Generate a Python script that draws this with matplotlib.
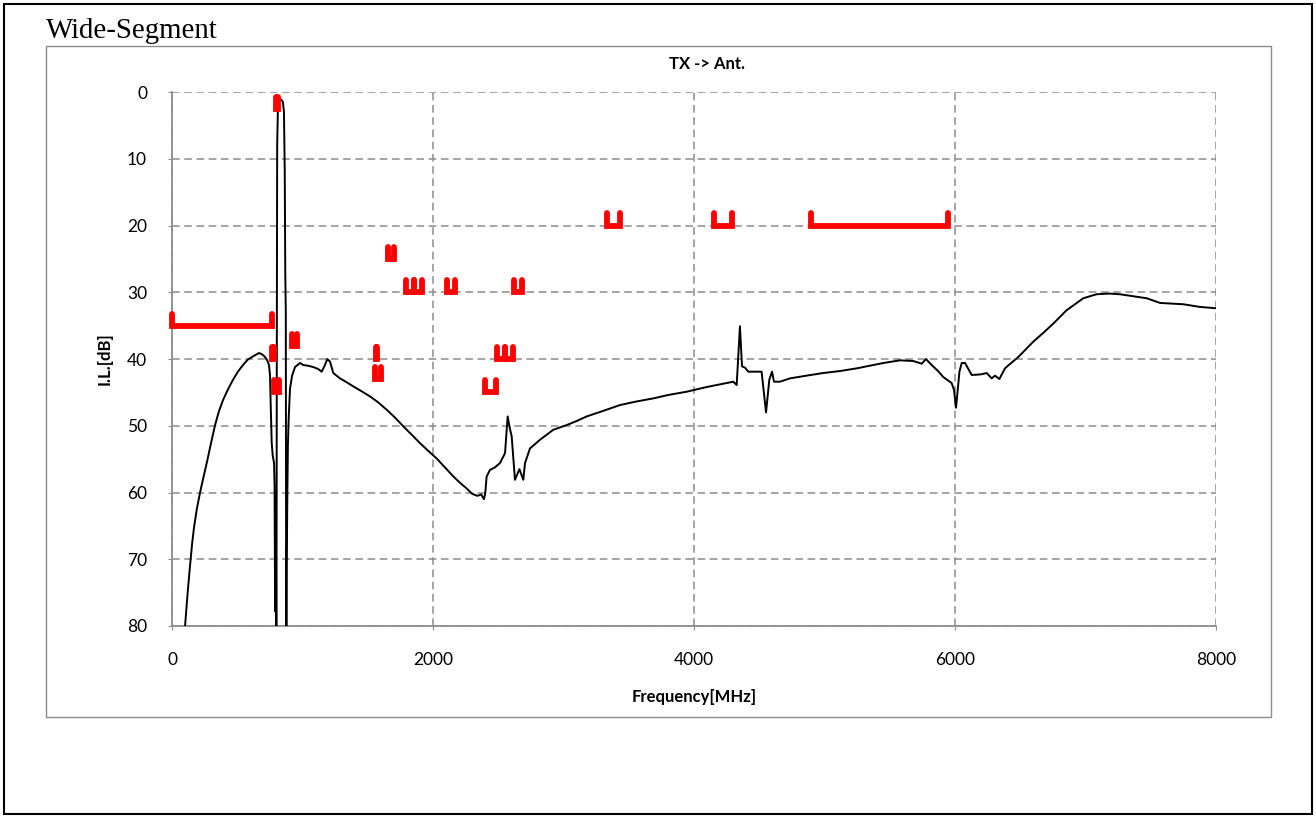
import matplotlib
matplotlib.use("Agg")
import matplotlib.pyplot as plt
from matplotlib.patches import Rectangle

plt.rcParams['font.family'] = ['Lato', 'DejaVu Sans']

# --- measured trace TX -> Ant. (frequency MHz, insertion loss dB)
freq = [100, 120, 138, 155, 169, 190, 215, 240, 266, 300, 330, 360, 392, 430, 468,
        505, 544, 580, 621, 667, 690, 713, 730, 743, 751,
        756, 764, 772, 782, 786, 790, 793, 797, 800, 803, 806, 812, 820, 835,
        850, 858, 864, 868, 872, 876, 879, 884, 888, 894, 904, 920, 943, 981,
        1005, 1040, 1082, 1120, 1147, 1170, 1190, 1211, 1236, 1287, 1340, 1389,
        1450, 1517, 1580, 1645, 1710, 1773, 1840, 1900, 1960, 2028, 2090, 2156,
        2210, 2258, 2300, 2340, 2370, 2390, 2400, 2411, 2437, 2470, 2513, 2552,
        2572, 2590, 2603, 2628, 2662, 2692, 2705, 2743, 2820, 2922, 3024, 3100,
        3178, 3300, 3433, 3550, 3688, 3800, 3944, 4097, 4225, 4301, 4327, 4352,
        4368, 4391, 4416, 4518, 4552, 4577, 4598, 4613, 4659, 4736, 4860, 4991,
        5120, 5247, 5350, 5451, 5579, 5680, 5745, 5778, 5821, 5870, 5910, 5974,
        5992, 6008, 6034, 6051, 6077, 6128, 6200, 6243, 6281, 6307, 6340, 6383,
        6430, 6485, 6540, 6600, 6670, 6753, 6855, 6983, 7085, 7180, 7264, 7366,
        7469, 7571, 7660, 7750, 7877, 8000]
il = [80, 75, 71, 67.5, 65.2, 62.5, 60, 57.8, 55.6, 52.5, 49.9, 47.8, 46.1, 44.5, 43.1,
      41.9, 40.9, 40.1, 39.6, 39.1, 39.3, 39.7, 40.2, 40.9, 42.4,
      46.6, 52.6, 54.5, 55.6, 59, 77.8, 60, 70, 92, 40, 8, 2, 1.3, 1.1,
      1.5, 3, 12, 27, 33, 95, 71.5, 60, 53, 49, 44.5, 42.5, 41.2, 40.6,
      40.9, 41.0, 41.2, 41.5, 41.9, 41.0, 40.0, 40.4, 42.1, 42.9, 43.5, 44.1,
      44.8, 45.6, 46.5, 47.6, 48.8, 50.1, 51.4, 52.6, 53.7, 54.9, 56.2, 57.6,
      58.6, 59.4, 60.2, 60.5, 60.3, 61.0, 60.2, 57.6, 56.6, 56.3, 55.6, 54.1,
      48.6, 50.5, 51.6, 58.1, 56.5, 58.1, 55.6, 53.4, 52.1, 50.6, 49.9, 49.3,
      48.6, 47.8, 46.9, 46.4, 45.9, 45.4, 44.9, 44.2, 43.7, 43.4, 43.9, 35.1,
      41.1, 41.3, 41.9, 41.9, 48.0, 43.1, 41.9, 43.4, 43.4, 42.9, 42.5, 42.1,
      41.8, 41.4, 41.0, 40.6, 40.2, 40.3, 40.7, 40.0, 40.9, 41.8, 42.7, 43.6,
      44.6, 47.3, 41.9, 40.6, 40.6, 42.4, 42.3, 42.1, 42.9, 42.5, 43.0, 41.4,
      40.6, 39.7, 38.6, 37.4, 36.2, 34.7, 32.7, 30.9, 30.3, 30.2, 30.3, 30.6,
      30.9, 31.6, 31.7, 31.8, 32.2, 32.4]

# --- limit brackets (start MHz, stop MHz, level dB)
lim_lo = [0, 763, 780, 795, 920, 1560, 1555, 1658, 1790, 1855, 2110, 2400,
          2490, 2552, 2620, 3330, 4150, 4900]
lim_hi = [765, 778, 821, 816, 955, 1572, 1600, 1702, 1855, 1915, 2165, 2485,
          2552, 2615, 2685, 3435, 4295, 5945]
lim_db = [35, 40, 45, 2.5, 38, 40, 43, 25, 30, 30, 30, 45,
          40, 40, 30, 20, 20, 20]

W, H = 1316, 818
fig = plt.figure(figsize=(W / 100, H / 100), dpi=100)
fig.patch.set_facecolor('white')

# outer page frame and chart area frame
fig.patches.append(Rectangle((4 / W, 4 / H), 1308 / W, 810 / H, transform=fig.transFigure,
                             fill=False, edgecolor='black', lw=1.5))
fig.patches.append(Rectangle((46 / W, 101 / H), 1225 / W, 671 / H, transform=fig.transFigure,
                             fill=False, edgecolor='#8c8c8c', lw=1.0))

ax = fig.add_axes([172 / W, 192 / H, 1044 / W, 534 / H])
ax.plot(freq, il, color='black', lw=1.4, zorder=3)

for lo, hi, db in zip(lim_lo, lim_hi, lim_db):
    ax.plot([lo, lo, hi, hi], [db - 1.8, db, db, db - 1.8], color='#ff0000', lw=4.2,
            solid_capstyle='round', solid_joinstyle='miter', clip_on=False, zorder=4)

ax.set_xlim(0, 8000)
ax.set_ylim(80, 0)
ax.set_xticks(range(0, 8001, 2000))
ax.set_yticks(range(0, 81, 10))
ax.grid(True, color='#8c8c8c', linestyle=(0, (5, 3)), lw=1.1)
ax.set_axisbelow(True)
for s in ['top', 'right']:
    ax.spines[s].set_visible(False)
for s in ['left', 'bottom']:
    ax.spines[s].set_color('#8c8c8c')
    ax.spines[s].set_linewidth(1.3)
ax.tick_params(axis='both', direction='out', length=3, color='#8c8c8c', labelsize=12.5)
ax.tick_params(axis='y', pad=15)
ax.tick_params(axis='x', pad=16)

fig.text(46 / W, 1 - 38 / H, 'Wide-Segment', family='Liberation Serif', fontsize=20.8,
         va='baseline', ha='left')
fig.text(707 / W, 1 - 64 / H, 'TX -> Ant.', fontsize=12, fontweight='bold',
         ha='center', va='center')
fig.text(105 / W, 1 - 359 / H, 'I.L.[dB]', fontsize=12, fontweight='bold',
         rotation=90, ha='center', va='center')
fig.text(694 / W, 1 - 697 / H, 'Frequency[MHz]', fontsize=12, fontweight='bold',
         ha='center', va='center')

fig.savefig('out.png', dpi=100)
